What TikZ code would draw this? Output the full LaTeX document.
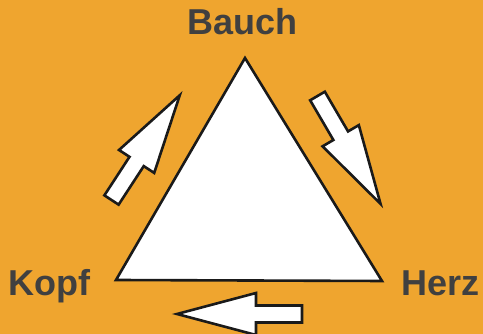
\documentclass[tikz,border=0pt]{standalone}
\usepackage{fontspec}
\setmainfont{Liberation Sans}
\definecolor{bg}{HTML}{EFA52F}
\definecolor{ink}{HTML}{1A1A1A}
\definecolor{txt}{HTML}{404040}
\tikzset{
  shapeline/.style={draw=ink, fill=white, line width=2.6pt, line join=miter},
  lbl/.style={text=txt, font=\fontsize{36}{40}\selectfont\bfseries, anchor=base, inner sep=0pt},
  blockarrow/.pic={
    \path[shapeline] (0,-8.5) -- (46,-8.5) -- (46,-21) -- (125,0) -- (46,21) -- (46,8.5) -- (0,8.5) -- cycle;
  }
}
\begin{document}
\begin{tikzpicture}[x=1pt,y=1pt]
  \fill[bg] (0,0) rectangle (483,334);
  \useasboundingbox (0,0) rectangle (483,334);
  % triangle
  \coordinate (top) at (245,276);
  \coordinate (bl) at (116,54);
  \coordinate (br) at (382,53);
  \path[shapeline] (top) -- (bl) -- (br) -- cycle;
  % labels
  \node[lbl] (bauch) at (242.5,299) {Bauch};
  \node[lbl] (kopf) at (49.5,38) {Kopf};
  \node[lbl] (herz) at (440.5,38) {Herz};
  % block arrows
  \pic[rotate=56.9] at (111.5,134) {blockarrow};
  \pic[rotate=-59.7] at (317.5,238) {blockarrow};
  \pic[rotate=180] at (302,20) {blockarrow};
\end{tikzpicture}
\end{document}
